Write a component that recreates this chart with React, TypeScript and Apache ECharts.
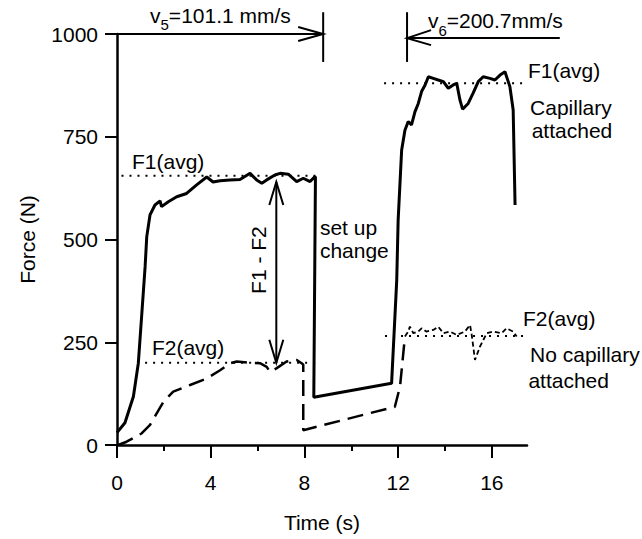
import React, { useEffect, useRef } from "react";
import * as echarts from "echarts";

const FONT = '"Liberation Sans", Arial, Helvetica, sans-serif';
const FS = 21;

// axis ticks
const xTickValues = [0, 4, 8, 12, 16];
const xMinorTickValues = [2, 6, 10, 14];

// F1 (capillary attached) force trace [time s, force N]
const f1Data: number[][] = [
  [0, 30], [0.34, 54], [0.7, 118], [0.91, 199], [1.05, 312], [1.2, 434], [1.27, 507],
  [1.41, 560], [1.62, 584], [1.84, 594], [1.9, 580], [2.19, 592], [2.55, 604], [2.97, 612],
  [3.4, 633], [3.83, 652], [4.1, 640], [4.4, 643], [4.82, 645], [5.25, 646], [5.68, 661],
  [5.96, 645], [6.18, 637], [6.39, 645], [6.74, 657], [6.96, 661], [7.31, 659], [7.67, 641],
  [7.95, 649], [8.24, 641], [8.45, 653], [8.47, 650], [8.4, 116], [11.72, 150], [11.94, 401],
  [12.0, 547], [12.15, 718], [12.29, 766], [12.43, 787], [12.57, 779], [12.72, 811],
  [12.86, 831], [13.0, 860], [13.15, 876], [13.29, 896], [13.5, 892], [13.71, 888],
  [13.93, 884], [14.14, 868], [14.35, 876], [14.5, 880], [14.64, 839], [14.75, 817],
  [14.99, 831], [15.2, 856], [15.42, 884], [15.63, 896], [15.92, 892], [16.13, 888],
  [16.35, 900], [16.56, 908], [16.77, 872], [16.91, 815], [16.99, 584],
];

// F2 (no capillary attached) force trace, first speed + set up change
const f2DataA: number[][] = [
  [0.05, 0], [0.41, 8], [1.05, 28], [1.41, 49], [1.98, 105], [2.4, 130], [3.12, 146],
  [3.83, 162], [4.4, 182], [4.82, 199], [5.11, 203], [5.68, 200], [6.1, 199], [6.39, 190],
  [6.53, 178], [6.82, 187], [7.24, 203], [7.67, 207], [7.88, 199], [7.95, 196], [7.95, 36],
  [11.86, 93], [12.08, 142], [12.29, 264],
];

// F2 trace, second speed
const f2DataB: number[][] = [
  [12.29, 264], [12.43, 276], [12.5, 288], [12.65, 272], [12.86, 276], [13.0, 284],
  [13.2, 276], [13.5, 280], [13.71, 288], [13.93, 272], [14.21, 276], [14.5, 268],
  [14.85, 276], [15.07, 292], [15.14, 268], [15.28, 207], [15.49, 239], [15.78, 272],
  [16.06, 276], [16.42, 272], [16.63, 284], [16.91, 276], [17.06, 264],
];

// average levels
const f1AvgA: number[][] = [[-0.15, 655], [8.5, 655]];
const f2AvgA: number[][] = [[1.2, 200], [8.6, 200]];
const f1AvgB: number[][] = [[11.4, 880], [17.55, 880]];
const f2AvgB: number[][] = [[11.44, 265], [18.4, 265]];

// annotation arrows, in data units
const v5Line = [0, 8.8, 1000]; // tStart, tEnd, force
const v5Bar = [8.8, 1053, 932]; // t, fTop, fBottom
const v6Line = [12.38, 18.9, 990];
const v6Bar = [12.38, 1053, 932];
const diffArrow = [6.8, 640, 200]; // t, fTop, fBottom

export default function App() {
  const ref = useRef<HTMLDivElement>(null);

  useEffect(() => {
    const chart = echarts.init(ref.current!, null, { renderer: "svg" });
    const black = "#000";
    const lineSeries = (data: number[][], width: number, type: any) => ({
      type: "line",
      data,
      symbol: "none",
      clip: false,
      silent: true,
      lineStyle: { color: black, width, type, cap: "butt" },
    });

    chart.setOption({
      animation: false,
      textStyle: { fontFamily: FONT },
      grid: { left: 117, right: 115, top: 34, bottom: 94, containLabel: false },
      xAxis: [
        {
          type: "value",
          min: 0,
          max: 17.5,
          position: "bottom",
          name: "Time (s)",
          nameLocation: "middle",
          nameGap: 67,
          nameTextStyle: { fontSize: FS, color: black, fontFamily: FONT },
          axisLine: { show: true, onZero: false, lineStyle: { color: black, width: 2.5 } },
          axisTick: { show: true, inside: false, length: 13, customValues: xTickValues, lineStyle: { color: black, width: 2 } },
          axisLabel: {
            show: true,
            customValues: xTickValues,
            margin: 27,
            fontSize: FS,
            color: black,
            fontFamily: FONT,
            formatter: (v: number) => String(v),
          },
          splitLine: { show: false },
        },
        {
          type: "value",
          min: 0,
          max: 17.5,
          position: "bottom",
          axisLine: { show: false },
          axisTick: { show: true, inside: false, length: 6, customValues: xMinorTickValues, lineStyle: { color: black, width: 2 } },
          axisLabel: { show: false },
          splitLine: { show: false },
        },
      ],
      yAxis: {
        type: "value",
        min: 0,
        max: 1000,
        interval: 250,
        name: "Force (N)",
        nameLocation: "middle",
        nameGap: 79,
        nameTextStyle: { fontSize: FS, color: black, fontFamily: FONT },
        axisLine: { show: true, onZero: false, lineStyle: { color: black, width: 2.5 } },
        axisTick: { show: true, inside: false, length: 12, lineStyle: { color: black, width: 2 } },
        axisLabel: {
          margin: 19,
          fontSize: FS,
          color: black,
          fontFamily: FONT,
          formatter: (v: number) => String(v),
        },
        splitLine: { show: false },
      },
      series: [
        { name: "F1", ...lineSeries(f1Data, 3, "solid") },
        { name: "F2", ...lineSeries(f2DataA, 2.5, [16, 8]) },
        { name: "F2 (v6)", ...lineSeries(f2DataB, 1.8, [5, 3]) },
        { name: "F1(avg) v5", ...lineSeries(f1AvgA, 2, [2, 6]) },
        { name: "F2(avg) v5", ...lineSeries(f2AvgA, 2, [2, 6]) },
        { name: "F1(avg) v6", ...lineSeries(f1AvgB, 2, [2, 6]) },
        { name: "F2(avg) v6", ...lineSeries(f2AvgB, 2, [2, 6]) },
      ],
    });

    const px = (t: number, f: number) => chart.convertToPixel({ gridIndex: 0 }, [t, f]) as number[];
    const stroke = { stroke: black, lineWidth: 2, fill: null as any };
    const seg = (a: number[], b: number[]) => ({
      type: "polyline",
      silent: true,
      shape: { points: [a, b] },
      style: stroke,
    });
    const poly = (pts: number[][]) => ({ type: "polyline", silent: true, shape: { points: pts }, style: stroke });
    const txt = (text: string, t: number, f: number, align = "left", extra: any = {}) => {
      const p = px(t, f);
      return {
        type: "text",
        x: p[0],
        y: p[1],
        silent: true,
        ...extra,
        style: {
          text,
          fill: black,
          fontSize: FS,
          fontFamily: FONT,
          align,
          textAlign: align,
          verticalAlign: "middle",
          textVerticalAlign: "middle",
        },
      };
    };
    const richTxt = (main1: string, sub: string, main2: string, t: number, f: number) => {
      const p = px(t, f);
      return {
        type: "text",
        x: p[0],
        y: p[1],
        silent: true,
        style: {
          text: `{m|${main1}}{s|${sub}}{m|${main2}}`,
          fill: black,
          align: "left",
          textAlign: "left",
          verticalAlign: "middle",
          textVerticalAlign: "middle",
          rich: {
            m: { fontSize: FS, fontFamily: FONT, fill: black, lineHeight: 24 },
            s: { fontSize: 15, fontFamily: FONT, fill: black, lineHeight: 16, padding: [19, 0, 0, 0] },
          },
        },
      };
    };

    // v5 arrow
    const a1 = px(v5Line[0], v5Line[2]);
    const a2 = px(v5Line[1], v5Line[2]);
    const b1 = px(v5Bar[0], v5Bar[1]);
    const b2 = px(v5Bar[0], v5Bar[2]);
    // v6 arrow
    const c1 = px(v6Line[0], v6Line[2]);
    const c2 = px(v6Line[1], v6Line[2]);
    const d1 = px(v6Bar[0], v6Bar[1]);
    const d2 = px(v6Bar[0], v6Bar[2]);
    // F1 - F2 arrow
    const e1 = px(diffArrow[0], diffArrow[1]);
    const e2 = px(diffArrow[0], diffArrow[2]);
    const dp = px(6.02, 450);

    const graphic: any[] = [
      seg(a1, a2),
      seg(b1, b2),
      poly([[a2[0] - 25, a2[1] - 7], a2, [a2[0] - 25, a2[1] + 7]]),
      seg(c1, c2),
      seg(d1, d2),
      poly([[c1[0] + 24, c1[1] - 8], c1, [c1[0] + 24, c1[1] + 7]]),
      seg(e1, e2),
      poly([[e1[0] - 7, e1[1] + 23], e1, [e1[0] + 7, e1[1] + 23]]),
      poly([[e2[0] - 7, e2[1] - 23], e2, [e2[0] + 7, e2[1] - 23]]),
      richTxt("v", "5", "=101.1 mm/s", 1.41, 1046),
      richTxt("v", "6", "=200.7mm/s", 13.27, 1032),
      txt("F1(avg)", 0.64, 689),
      txt("F2(avg)", 1.49, 238),
      {
        type: "text",
        x: dp[0],
        y: dp[1],
        rotation: Math.PI / 2,
        silent: true,
        style: {
          text: "F1 - F2",
          fill: black,
          fontSize: FS,
          fontFamily: FONT,
          align: "center",
          textAlign: "center",
          verticalAlign: "middle",
          textVerticalAlign: "middle",
        },
      },
      txt("set up", 8.66, 528),
      txt("change", 8.66, 474),
      txt("F1(avg)", 17.54, 912),
      txt("Capillary", 17.63, 822),
      txt("attached", 17.7, 766),
      txt("F2(avg)", 17.33, 307),
      txt("No capillary", 17.63, 219),
      txt("attached", 17.56, 158),
    ];
    chart.setOption({ graphic });

    return () => chart.dispose();
  }, []);

  return (
    <div
      ref={ref}
      style={{ position: "absolute", left: 0, top: 0, width: 642, height: 539, background: "#fff" }}
    />
  );
}
